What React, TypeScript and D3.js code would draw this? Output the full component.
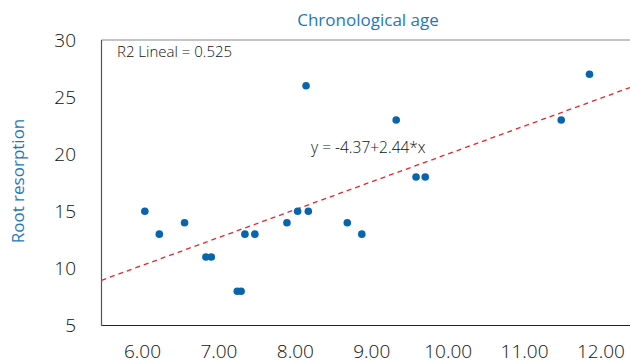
import React, { useEffect, useRef } from "react";
import * as d3 from "d3";

// chronological age (x) / root resorption (y)
const ages = [6.03, 6.22, 6.55, 6.83, 6.9, 7.24, 7.29, 7.34, 7.47, 7.89, 8.03, 8.14, 8.17, 8.68, 8.87, 9.32, 9.58, 9.7, 11.48, 11.85];
const resorption = [15, 13, 14, 11, 11, 8, 8, 13, 13, 14, 15, 26, 15, 14, 13, 23, 18, 18, 23, 27];
const xTicks = [6, 7, 8, 9, 10, 11, 12];
const yTicks = [5, 10, 15, 20, 25, 30];
const intercept = -4.37;
const slope = 2.44;
const r2 = 0.525;

const W = 630;
const H = 363;
const FONT = "'Open Sans', 'Noto Sans', sans-serif";
const BLUE = "#1f78b8";

const App: React.FC = () => {
    const svgRef = useRef<SVGSVGElement | null>(null);

    useEffect(() => {
        const svg = d3.select(svgRef.current);
        svg.selectAll("*").remove();

        const x = d3.scaleLinear().domain([5.463, 12.38]).range([101.5, 630]);
        const y = d3.scaleLinear().domain([5, 30]).range([325.5, 40]);
        const [x0, x1] = x.domain();

        svg.append("rect").attr("width", W).attr("height", H).attr("fill", "#fff");

        // frame
        svg.append("line")
            .attr("x1", x.range()[0]).attr("x2", W)
            .attr("y1", y(30)).attr("y2", y(30))
            .attr("stroke", "#8a8a8a").attr("stroke-width", 1.2);
        svg.append("line")
            .attr("x1", x.range()[0]).attr("x2", x.range()[0])
            .attr("y1", y(30)).attr("y2", y(5))
            .attr("stroke", "#555").attr("stroke-width", 1.2);
        svg.append("line")
            .attr("x1", x.range()[0]).attr("x2", W)
            .attr("y1", y(5)).attr("y2", y(5))
            .attr("stroke", "#222").attr("stroke-width", 1.2);

        // tick labels
        svg.append("g").selectAll("text")
            .data(yTicks).enter().append("text")
            .attr("x", 76).attr("y", d => y(d))
            .attr("dy", "0.36em")
            .attr("text-anchor", "end")
            .attr("font-family", FONT).attr("font-size", 19)
            .attr("font-weight", 300)
            .attr("fill", "#111")
            .text(d => d);

        svg.append("g").selectAll("text")
            .data(xTicks).enter().append("text")
            .attr("x", d => x(d)).attr("y", 351)
            .attr("dy", "0.36em")
            .attr("text-anchor", "middle")
            .attr("font-family", FONT).attr("font-size", 19)
            .attr("font-weight", 300)
            .attr("fill", "#111")
            .text(d => d.toFixed(2));

        // fit line
        svg.append("line")
            .attr("x1", x(x0)).attr("y1", y(intercept + slope * x0))
            .attr("x2", x(x1)).attr("y2", y(intercept + slope * x1))
            .attr("stroke", "#e8262d").attr("stroke-width", 1.3)
            .attr("stroke-dasharray", "5,4");

        // points
        svg.append("g").selectAll("circle")
            .data(ages).enter().append("circle")
            .attr("cx", d => x(d))
            .attr("cy", (d, i) => y(resorption[i]))
            .attr("r", 3.8)
            .attr("fill", "#0865ad");

        // annotations
        svg.append("text")
            .attr("x", 117).attr("y", 52)
            .attr("dy", "0.36em")
            .attr("font-family", FONT).attr("font-size", 15)
            .attr("font-weight", 300)
            .attr("fill", "#111")
            .text(`R2 Lineal = ${r2}`);

        svg.append("text")
            .attr("x", 311).attr("y", 147)
            .attr("dy", "0.36em")
            .attr("font-family", FONT).attr("font-size", 15.5)
            .attr("font-weight", 300)
            .attr("fill", "#111")
            .text(`y = ${intercept}+${slope}*x`);

        // titles
        svg.append("text")
            .attr("x", 368).attr("y", 20)
            .attr("dy", "0.36em")
            .attr("text-anchor", "middle")
            .attr("font-family", FONT).attr("font-size", 17)
            .attr("fill", BLUE)
            .text("Chronological age");

        svg.append("text")
            .attr("transform", `translate(18,181) rotate(-90)`)
            .attr("dy", "0.36em")
            .attr("text-anchor", "middle")
            .attr("font-family", FONT).attr("font-size", 17)
            .attr("fill", BLUE)
            .text("Root resorption");
    }, []);

    return (
        <svg
            ref={svgRef}
            width={W}
            height={H}
            style={{ position: "absolute", left: 0, top: 0, display: "block" }}
        />
    );
};

export default App;
